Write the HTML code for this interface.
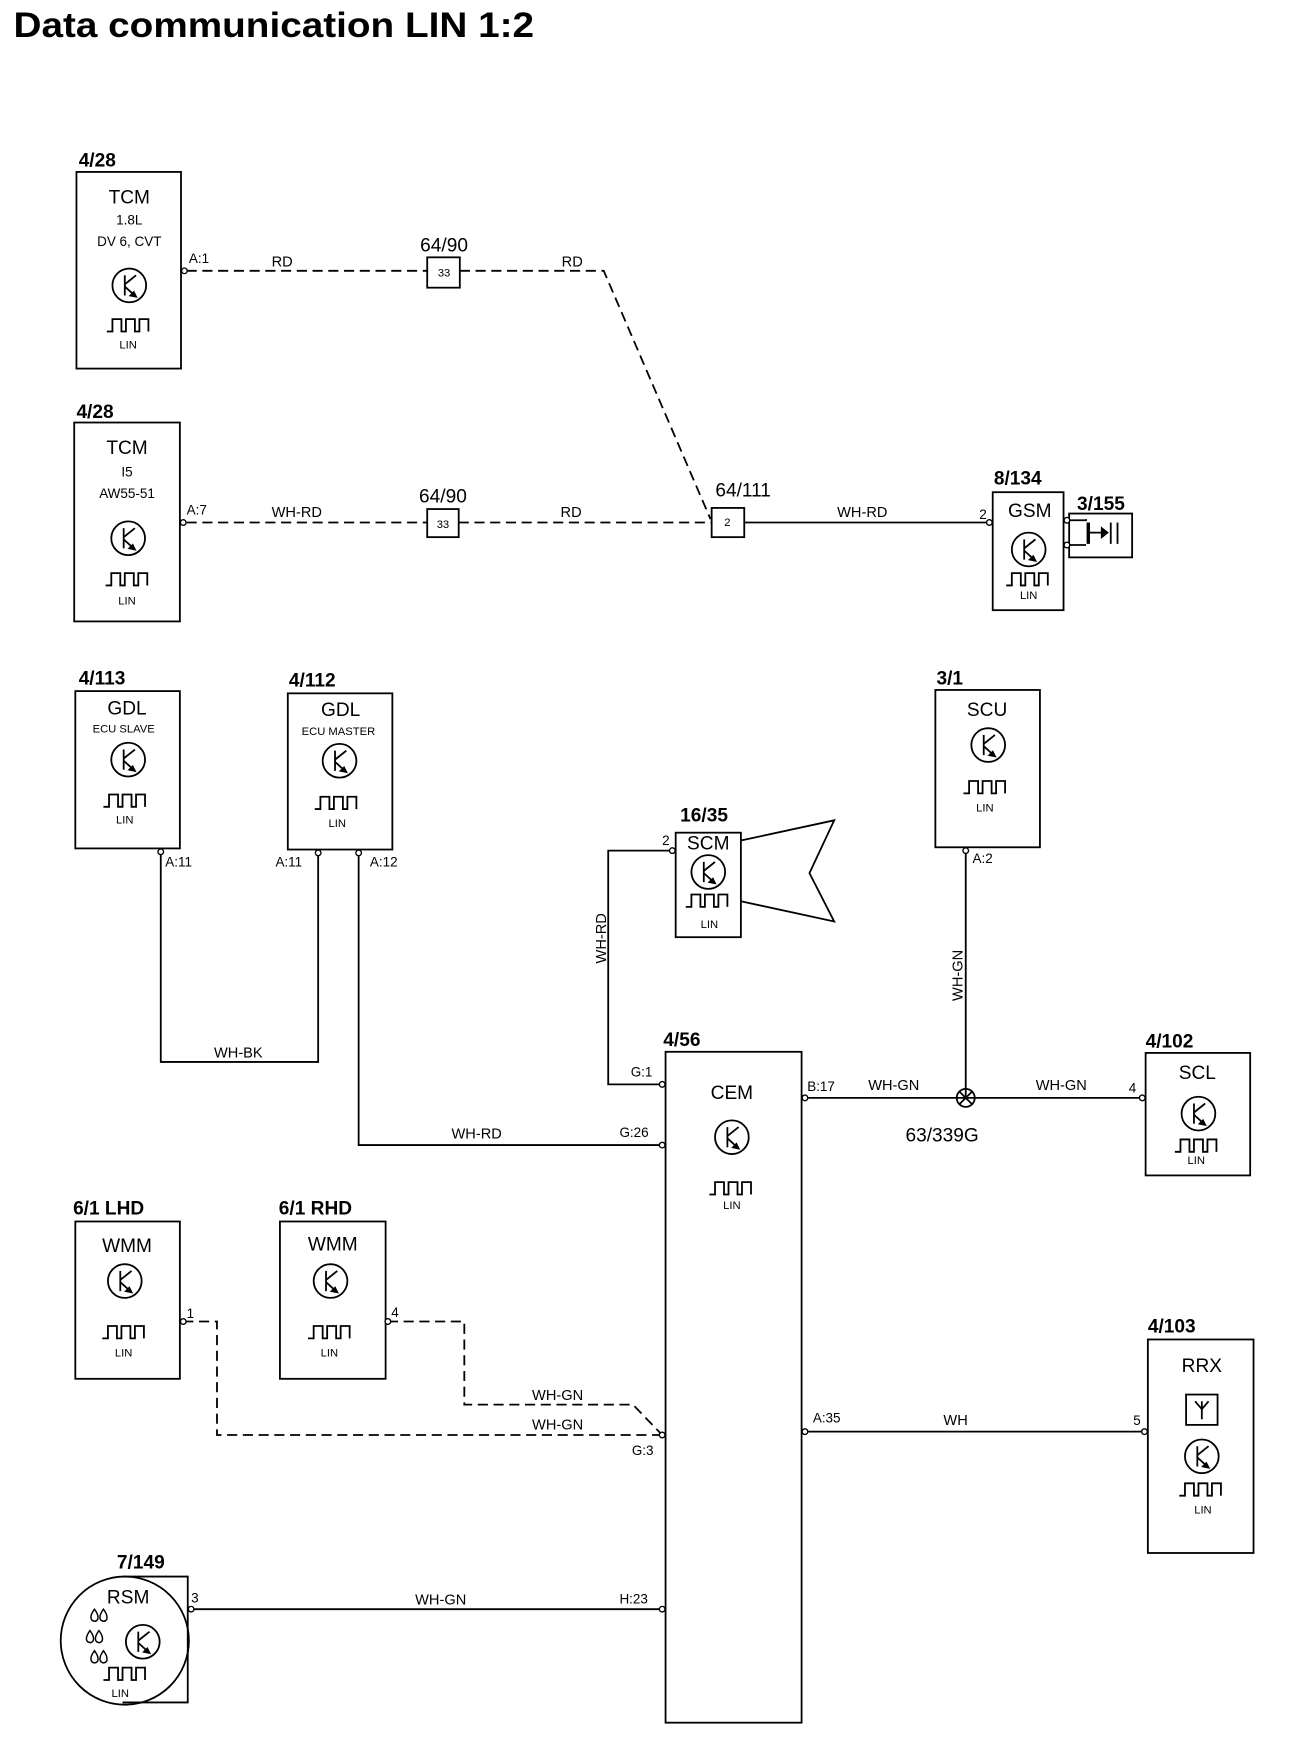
<!DOCTYPE html>
<html><head><meta charset="utf-8"><style>
html,body{margin:0;padding:0;background:#fff;}
svg{display:block;}
text{font-family:"Liberation Sans",Arial,sans-serif;fill:#000;}
.b{font-weight:bold;font-size:17px;}
.n{font-size:17px;text-anchor:middle;}
.s{font-size:12px;text-anchor:middle;}
.p{font-size:12px;}
.l{font-size:10px;text-anchor:middle;}
.w{font-size:13px;text-anchor:middle;}
</style></head><body>
<svg width="1312" height="1762" viewBox="0 0 1167 1568" preserveAspectRatio="none" xmlns="http://www.w3.org/2000/svg">
<defs>
<g id="tr" fill="none" stroke="#000" stroke-width="1.6">
<circle cx="0" cy="0" r="15"/>
<line x1="-4" y1="-9" x2="-4" y2="9"/>
<line x1="-4" y1="-1" x2="6" y2="-9"/>
<line x1="-4" y1="1" x2="6" y2="10"/>
<path d="M6,10 l-5,-1 l3,-3 z" fill="#000"/>
</g>
<path id="wv" d="M-20,6 h5 v-11 h8 v11 h4 v-11 h8 v11 h4 v-11 h8 v11" fill="none" stroke="#000" stroke-width="1.6"/>
</defs>
<text x="12" y="33" font-weight="bold" font-size="31" textLength="463" lengthAdjust="spacingAndGlyphs">Data communication LIN 1:2</text>

<g fill="none" stroke="#000" stroke-width="1.6">
<rect x="68" y="153" width="93" height="175"/>
<rect x="66" y="376" width="94" height="177"/>
<rect x="380" y="229" width="29" height="27"/>
<rect x="380" y="453" width="28" height="25"/>
<rect x="633" y="452" width="29" height="26"/>
<rect x="883" y="438" width="63" height="105"/>
<rect x="951" y="457" width="56" height="39"/>
<rect x="67" y="615" width="93" height="140"/>
<rect x="256" y="617" width="93" height="139"/>
<rect x="601" y="741" width="58" height="93"/>
<rect x="832" y="614" width="93" height="140"/>
<rect x="592" y="936" width="121" height="597"/>
<rect x="1019" y="937" width="93" height="109"/>
<rect x="1021" y="1192" width="94" height="190"/>
<rect x="67" y="1087" width="93" height="140"/>
<rect x="249" y="1087" width="94" height="140"/>
<rect x="1055" y="1241" width="28" height="27"/>
<circle cx="111" cy="1460" r="57"/>
<polyline points="109,1403 167,1403 167,1515 109,1515"/>
<polyline points="659,748 742,730 720,777 742,820 659,802"/>
<g stroke-dasharray="9,5">
<polyline points="166,241 380,241"/>
<polyline points="409,241 537,241 632,462"/>
<polyline points="166,465 380,465"/>
<polyline points="408,465 633,465"/>
<polyline points="163,1176 193,1176 193,1277 589,1277"/>
<polyline points="345,1176 413,1176 413,1250 563,1250 589,1277"/>
</g>
<polyline points="662,465 877,465"/>
<polyline points="143,758 143,945 283,945 283,759"/>
<polyline points="319,759 319,1019 589,1019"/>
<polyline points="597,757 541,757 541,965 589,965"/>
<polyline points="716,977 1016,977"/>
<polyline points="859,757 859,977"/>
<polyline points="716,1274 1018,1274"/>
<polyline points="170,1432 589,1432"/>
<circle cx="859" cy="977" r="8"/>
<line x1="853" y1="971" x2="865" y2="983"/><line x1="865" y1="971" x2="853" y2="983"/>
<polyline points="948,463 966,463 966,462"/>
<polyline points="948,485 966,485"/>
<line x1="968" y1="465" x2="968" y2="484" stroke-width="3"/>
<line x1="968" y1="474" x2="985" y2="474"/>
<path d="M980,470 l5,4 l-5,4 z" fill="#000"/>
<line x1="988" y1="465" x2="988" y2="484"/>
<line x1="994" y1="465" x2="994" y2="484"/>
<line x1="1069" y1="1247" x2="1069" y2="1263"/>
<polyline points="1063,1247 1069,1254 1075,1247"/>
<g fill="#fff" stroke-width="1.2">
<circle cx="164" cy="241" r="2.5"/><circle cx="163" cy="465" r="2.5"/>
<circle cx="880" cy="465" r="2.5"/><circle cx="949" cy="463" r="2.5"/><circle cx="949" cy="485" r="2.5"/>
<circle cx="143" cy="758" r="2.5"/><circle cx="283" cy="759" r="2.5"/><circle cx="319" cy="759" r="2.5"/>
<circle cx="598" cy="757" r="2.5"/><circle cx="859" cy="757" r="2.5"/>
<circle cx="589" cy="965" r="2.5"/><circle cx="589" cy="1019" r="2.5"/><circle cx="589" cy="1277" r="2.5"/><circle cx="589" cy="1432" r="2.5"/>
<circle cx="716" cy="977" r="2.5"/><circle cx="716" cy="1274" r="2.5"/>
<circle cx="1016" cy="977" r="2.5"/><circle cx="1018" cy="1274" r="2.5"/>
<circle cx="163" cy="1176" r="2.5"/><circle cx="345" cy="1176" r="2.5"/><circle cx="170" cy="1432" r="2.5"/>
</g>
<g stroke-width="1.3">
<path d="M84,1432 q-5,7 -2,10 q3,2 5,-1 q1,-4 -3,-9z M92,1432 q-5,7 -2,10 q3,2 5,-1 q1,-4 -3,-9z"/>
<path d="M80,1451 q-5,7 -2,10 q3,2 5,-1 q1,-4 -3,-9z M88,1451 q-5,7 -2,10 q3,2 5,-1 q1,-4 -3,-9z"/>
<path d="M84,1469 q-5,7 -2,10 q3,2 5,-1 q1,-4 -3,-9z M92,1469 q-5,7 -2,10 q3,2 5,-1 q1,-4 -3,-9z"/>
</g>
</g>

<use href="#tr" x="115" y="254"/><use href="#wv" x="115" y="289"/>
<use href="#tr" x="114" y="479"/><use href="#wv" x="114" y="515"/>
<use href="#tr" x="915" y="489"/><use href="#wv" x="915" y="515"/>
<use href="#tr" x="114" y="676"/><use href="#wv" x="112" y="712"/>
<use href="#tr" x="302" y="677"/><use href="#wv" x="300" y="714"/>
<use href="#tr" x="630" y="776"/><use href="#wv" x="630" y="801"/>
<use href="#tr" x="879" y="663"/><use href="#wv" x="877" y="700"/>
<use href="#tr" x="651" y="1012"/><use href="#wv" x="651" y="1057"/>
<use href="#tr" x="1066" y="991"/><use href="#wv" x="1065" y="1019"/>
<use href="#tr" x="1069" y="1296"/><use href="#wv" x="1069" y="1325"/>
<use href="#tr" x="111" y="1140"/><use href="#wv" x="111" y="1185"/>
<use href="#tr" x="294" y="1140"/><use href="#wv" x="294" y="1185"/>
<use href="#tr" x="127" y="1461"/><use href="#wv" x="112" y="1489"/>

<text class="b" x="70" y="148">4/28</text>
<text class="n" x="115" y="181">TCM</text>
<text class="s" x="115" y="200">1.8L</text>
<text class="s" x="115" y="219">DV 6, CVT</text>
<text class="l" x="114" y="310">LIN</text>
<text class="p" x="168" y="234">A:1</text>
<text class="w" x="251" y="237">RD</text>
<text class="w" x="509" y="237">RD</text>
<text class="n" x="395" y="224">64/90</text>
<text class="l" x="395" y="246" font-size="11">33</text>

<text class="b" x="68" y="372">4/28</text>
<text class="n" x="113" y="404">TCM</text>
<text class="s" x="113" y="424">I5</text>
<text class="s" x="113" y="443">AW55-51</text>
<text class="l" x="113" y="538">LIN</text>
<text class="p" x="166" y="458">A:7</text>
<text class="w" x="264" y="460">WH-RD</text>
<text class="w" x="508" y="460">RD</text>
<text class="n" x="394" y="447">64/90</text>
<text class="l" x="394" y="470" font-size="11">33</text>
<text class="n" x="661" y="442">64/111</text>
<text class="l" x="647" y="468" font-size="11">2</text>
<text class="w" x="767" y="460">WH-RD</text>
<text class="p" x="871" y="462">2</text>
<text class="b" x="884" y="431">8/134</text>
<text class="n" x="916" y="460">GSM</text>
<text class="l" x="915" y="533">LIN</text>
<text class="b" x="958" y="454">3/155</text>

<text class="b" x="70" y="609">4/113</text>
<text class="n" x="113" y="636">GDL</text>
<text class="l" x="110" y="652" font-size="11">ECU SLAVE</text>
<text class="l" x="111" y="733">LIN</text>
<text class="p" x="147" y="771">A:11</text>
<text class="b" x="257" y="611">4/112</text>
<text class="n" x="303" y="637">GDL</text>
<text class="l" x="301" y="654" font-size="11">ECU MASTER</text>
<text class="l" x="300" y="736">LIN</text>
<text class="p" x="245" y="771">A:11</text>
<text class="p" x="329" y="771">A:12</text>
<text class="w" x="212" y="941">WH-BK</text>
<text class="w" x="424" y="1013">WH-RD</text>
<text class="p" x="551" y="1012">G:26</text>

<text class="b" x="605" y="731">16/35</text>
<text class="n" x="630" y="756">SCM</text>
<text class="l" x="631" y="826">LIN</text>
<text class="p" x="589" y="752">2</text>
<text class="w" transform="translate(539,835) rotate(-90)">WH-RD</text>
<text class="p" x="561" y="958">G:1</text>

<text class="b" x="833" y="609">3/1</text>
<text class="n" x="878" y="637">SCU</text>
<text class="l" x="876" y="722">LIN</text>
<text class="p" x="865" y="768">A:2</text>
<text class="w" transform="translate(856,868) rotate(-90)">WH-GN</text>

<text class="b" x="590" y="931">4/56</text>
<text class="n" x="651" y="978">CEM</text>
<text class="l" x="651" y="1076">LIN</text>
<text class="p" x="718" y="971">B:17</text>
<text class="w" x="795" y="970">WH-GN</text>
<text class="w" x="944" y="970">WH-GN</text>
<text class="n" x="838" y="1016">63/339G</text>
<text class="p" x="1004" y="972">4</text>
<text class="b" x="1019" y="932">4/102</text>
<text class="n" x="1065" y="960">SCL</text>
<text class="l" x="1064" y="1036">LIN</text>

<text class="p" x="723" y="1266">A:35</text>
<text class="w" x="850" y="1268">WH</text>
<text class="p" x="1008" y="1268">5</text>
<text class="b" x="1021" y="1186">4/103</text>
<text class="n" x="1069" y="1221">RRX</text>
<text class="l" x="1070" y="1347">LIN</text>

<text class="b" x="65" y="1081">6/1 LHD</text>
<text class="n" x="113" y="1114">WMM</text>
<text class="l" x="110" y="1207">LIN</text>
<text class="p" x="166" y="1173">1</text>
<text class="b" x="248" y="1081">6/1 RHD</text>
<text class="n" x="296" y="1113">WMM</text>
<text class="l" x="293" y="1207">LIN</text>
<text class="p" x="348" y="1172">4</text>
<text class="w" x="496" y="1246">WH-GN</text>
<text class="w" x="496" y="1272">WH-GN</text>
<text class="p" x="562" y="1295">G:3</text>

<text class="b" x="104" y="1396">7/149</text>
<text class="n" x="114" y="1427" font-size="15">RSM</text>
<text class="l" x="107" y="1510">LIN</text>
<text class="p" x="170" y="1426">3</text>
<text class="w" x="392" y="1428">WH-GN</text>
<text class="p" x="551" y="1427">H:23</text>
</svg>
</body></html>
